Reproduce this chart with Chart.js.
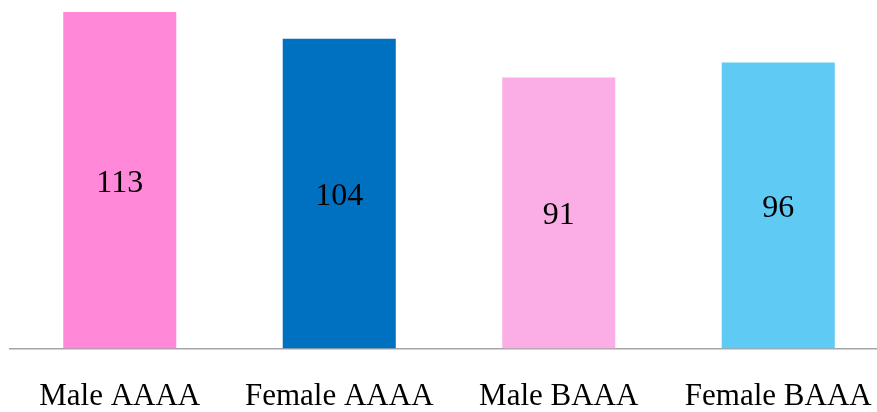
<!DOCTYPE html>
<html>
<head>
<meta charset="utf-8">
<script src="https://cdn.jsdelivr.net/npm/chart.js@4/dist/chart.umd.min.js"></script>
<style>
  html, body { margin: 0; padding: 0; background: #ffffff; overflow: hidden; }
</style>
</head>
<body>
<canvas id="chart" width="877" height="412"></canvas>
<script>
const categories = ['Male AAAA', 'Female AAAA', 'Male BAAA', 'Female BAAA'];
const counts = [113, 104, 91, 96];
const barColors = ['#FF88D8', '#0070C0', '#FBAEE6', '#5FCBF5'];

const serif = '"Liberation Serif", "Times New Roman", serif';
const PLOT_RIGHT = 888; // the plot area runs slightly past the canvas edge

// Stretches the category axis beyond the right edge of the canvas
const widenPlot = {
  id: 'widenPlot',
  afterLayout(chart) {
    chart.chartArea.right = PLOT_RIGHT;
    chart.chartArea.width = PLOT_RIGHT - chart.chartArea.left;
    const x = chart.scales.x;
    x.right = PLOT_RIGHT;
    x.width = PLOT_RIGHT - x.left;
    x.configure();
  }
};

// Writes each bar's value in the middle of the bar
const centerLabels = {
  id: 'centerLabels',
  afterDatasetsDraw(chart) {
    const ctx = chart.ctx;
    const meta = chart.getDatasetMeta(0);
    ctx.save();
    ctx.font = '32px ' + serif;
    ctx.fillStyle = '#000000';
    ctx.textAlign = 'center';
    ctx.textBaseline = 'middle';
    meta.data.forEach((bar, i) => {
      const y = (bar.y + bar.base) / 2 + 3;
      ctx.fillText(String(chart.data.datasets[0].data[i]), bar.x, y);
    });
    ctx.restore();
  }
};

new Chart(document.getElementById('chart'), {
  type: 'bar',
  data: {
    labels: categories,
    datasets: [{
      data: counts,
      backgroundColor: barColors,
      borderWidth: 0,
      barPercentage: 0.515,
      categoryPercentage: 1.0
    }]
  },
  options: {
    responsive: false,
    animation: false,
    layout: { padding: { left: 10, right: 0, top: 0, bottom: 0 } },
    plugins: { legend: { display: false }, tooltip: { enabled: false } },
    scales: {
      x: {
        grid: { display: false, drawTicks: false },
        border: { display: true, color: '#A6A6A6', width: 1.5 },
        ticks: {
          color: '#000000',
          padding: 30,
          maxRotation: 0,
          autoSkip: false,
          font: { family: serif, size: 31 }
        },
        afterFit(scale) { scale.height = 63.5; }
      },
      y: {
        display: false,
        min: 0,
        max: 117
      }
    }
  },
  plugins: [widenPlot, centerLabels]
});
</script>
</body>
</html>
